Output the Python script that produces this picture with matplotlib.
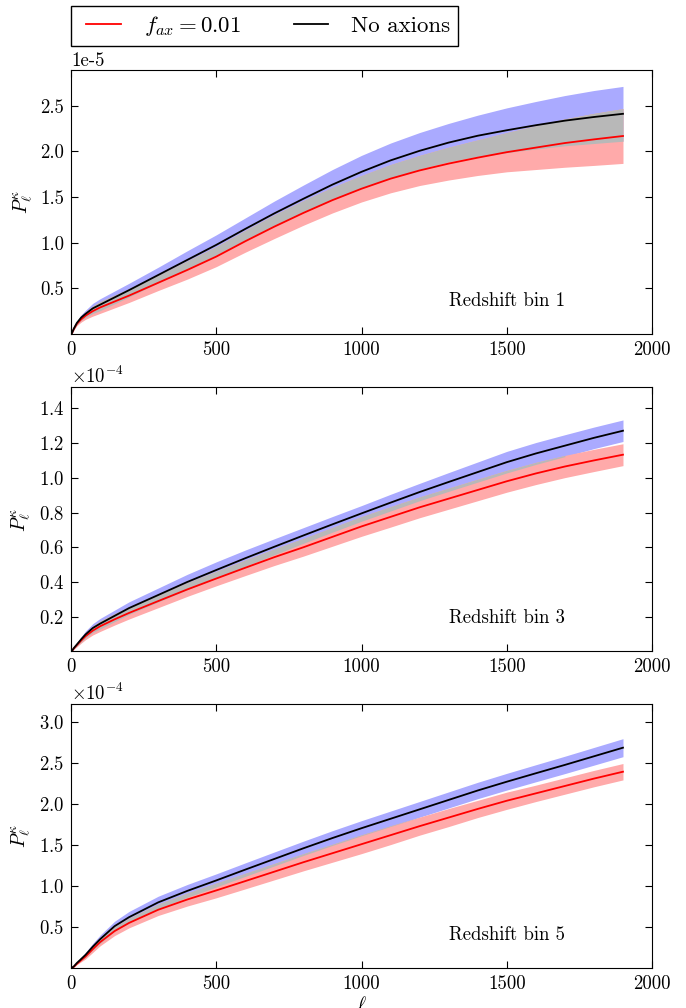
import numpy as np
import matplotlib
matplotlib.use('Agg')
import matplotlib.pyplot as plt
from matplotlib.legend_handler import HandlerLine2D

# Computer Modern look
plt.rcParams['font.family'] = 'serif'
plt.rcParams['font.serif'] = ['cmr10', 'DejaVu Serif']
plt.rcParams['mathtext.fontset'] = 'cm'
plt.rcParams['axes.unicode_minus'] = False
plt.rcParams['axes.formatter.use_mathtext'] = False

# Multipoles
ell = [2, 10, 20, 35, 50, 75, 100, 150, 200, 300, 400, 500, 600, 700, 800, 900,
       1000, 1100, 1200, 1300, 1400, 1500, 1600, 1700, 1800, 1900]

# Redshift bin 1 (units of 1e-5)
noax_1 = [0.0, 0.06, 0.12, 0.18, 0.22, 0.28, 0.32, 0.40, 0.48, 0.645, 0.81, 0.975, 1.15,
          1.32, 1.48, 1.635, 1.775, 1.90, 2.005, 2.095, 2.17, 2.23, 2.285, 2.335, 2.375, 2.41]
noax_err_1 = [0.0, 0.01, 0.02, 0.03, 0.04, 0.055, 0.065, 0.07, 0.075, 0.085, 0.10, 0.11, 0.12,
              0.135, 0.15, 0.165, 0.18, 0.19, 0.20, 0.21, 0.225, 0.245, 0.26, 0.275, 0.29, 0.30]
fax_1 = [0.0, 0.055, 0.11, 0.16, 0.20, 0.25, 0.29, 0.355, 0.42, 0.56, 0.70, 0.847, 1.015,
         1.175, 1.325, 1.465, 1.59, 1.70, 1.79, 1.865, 1.93, 1.99, 2.04, 2.09, 2.13, 2.167]
fax_err_1 = [0.0, 0.01, 0.02, 0.03, 0.04, 0.055, 0.065, 0.07, 0.075, 0.085, 0.10, 0.11, 0.12,
             0.13, 0.135, 0.14, 0.145, 0.155, 0.165, 0.18, 0.195, 0.215, 0.24, 0.265, 0.285, 0.30]

# Redshift bin 3 (units of 1e-4)
noax_3 = [0.0, 0.02, 0.04, 0.07, 0.098, 0.135, 0.16, 0.205, 0.25, 0.325, 0.40, 0.469, 0.537,
          0.603, 0.668, 0.732, 0.795, 0.857, 0.918, 0.976, 1.033, 1.09, 1.14, 1.185, 1.23, 1.271]
noax_err_3 = [0.0, 0.005, 0.01, 0.015, 0.02, 0.025, 0.03, 0.033, 0.036, 0.04, 0.044, 0.047, 0.047,
              0.046, 0.045, 0.045, 0.045, 0.048, 0.05, 0.054, 0.058, 0.062, 0.063, 0.063, 0.062, 0.062]
fax_3 = [0.0, 0.018, 0.036, 0.063, 0.088, 0.12, 0.145, 0.185, 0.222, 0.29, 0.357, 0.42, 0.482,
         0.543, 0.60, 0.66, 0.72, 0.775, 0.83, 0.88, 0.93, 0.98, 1.025, 1.065, 1.10, 1.133]
fax_err_3 = [0.0, 0.005, 0.01, 0.015, 0.02, 0.025, 0.03, 0.033, 0.035, 0.038, 0.04, 0.042, 0.045,
             0.048, 0.051, 0.054, 0.057, 0.059, 0.06, 0.061, 0.062, 0.063, 0.064, 0.064, 0.064, 0.063]

# Redshift bin 5 (units of 1e-4)
noax_5 = [0.0, 0.02, 0.06, 0.11, 0.16, 0.26, 0.35, 0.51, 0.62, 0.80, 0.94, 1.068, 1.20,
          1.33, 1.46, 1.585, 1.705, 1.82, 1.935, 2.05, 2.165, 2.272, 2.375, 2.477, 2.582, 2.687]
noax_err_5 = [0.0, 0.005, 0.01, 0.02, 0.03, 0.04, 0.05, 0.06, 0.07, 0.075, 0.078, 0.08, 0.082,
              0.085, 0.087, 0.09, 0.092, 0.094, 0.096, 0.098, 0.10, 0.102, 0.104, 0.106, 0.108, 0.11]
fax_5 = [0.0, 0.015, 0.05, 0.095, 0.14, 0.23, 0.315, 0.45, 0.55, 0.71, 0.835, 0.946, 1.06,
         1.175, 1.29, 1.40, 1.51, 1.62, 1.73, 1.835, 1.94, 2.04, 2.13, 2.22, 2.31, 2.394]
fax_err_5 = [0.0, 0.005, 0.01, 0.02, 0.03, 0.04, 0.045, 0.055, 0.06, 0.07, 0.08, 0.09, 0.095,
             0.10, 0.105, 0.11, 0.115, 0.115, 0.11, 0.11, 0.105, 0.105, 0.10, 0.10, 0.10, 0.10]

panels = [
    ('Redshift bin 1', 1e-5, noax_1, noax_err_1, fax_1, fax_err_1, 2.89, [0.5, 1.0, 1.5, 2.0, 2.5]),
    ('Redshift bin 3', 1e-4, noax_3, noax_err_3, fax_3, fax_err_3, 1.52, [0.2, 0.4, 0.6, 0.8, 1.0, 1.2, 1.4]),
    ('Redshift bin 5', 1e-4, noax_5, noax_err_5, fax_5, fax_err_5, 3.22, [0.5, 1.0, 1.5, 2.0, 2.5, 3.0]),
]

fig = plt.figure(figsize=(6.86, 10.08), dpi=100)
bottoms = [0.6687, 0.3537, 0.0397]

x = np.array(ell)
for i, (name, scale, n, ne, a, ae, ytop, yt) in enumerate(panels):
    ax = fig.add_axes([0.1035, bottoms[i], 0.847, 0.2619])
    n = np.array(n) * scale
    ne = np.array(ne) * scale
    a = np.array(a) * scale
    ae = np.array(ae) * scale

    # error bands, overlap drawn in grey
    ax.fill_between(x, n - ne, n + ne, color='#aaaaff', lw=0)
    ax.fill_between(x, a - ae, a + ae, color='#ffaaaa', lw=0)
    lo = np.maximum(n - ne, a - ae)
    hi = np.minimum(n + ne, a + ae)
    ax.fill_between(x, lo, hi, where=hi > lo, color='#b8b8b8', lw=0)

    l1, = ax.plot(x, a, color='red', lw=1.3)
    l2, = ax.plot(x, n, color='black', lw=1.3)

    ax.set_xlim(0, 2000)
    ax.set_ylim(0, ytop * scale)
    ax.set_xticks([0, 500, 1000, 1500, 2000])
    ax.set_yticks(np.array(yt) * scale)
    ax.ticklabel_format(axis='y', style='sci', scilimits=(0, 0), useMathText=(i > 0))
    ax.yaxis.get_offset_text().set_fontsize(13.5)
    ax.tick_params(direction='in', top=True, right=True, length=5, width=0.8,
                   labelsize=13.5, pad=5)
    ax.set_ylabel(r'$P_\ell^\kappa$', fontsize=14, labelpad=4)
    ax.text(0.65, 0.125, name, transform=ax.transAxes, fontsize=13.5, va='center')

    if i == 0:
        leg = ax.legend([l1, l2], [r'$f_{ax} = 0.01$', 'No axions'], loc='lower left',
                        bbox_to_anchor=(0, 1.091), ncol=2, borderaxespad=0,
                        fontsize=16.5, fancybox=False, edgecolor='black',
                        handlelength=1.82, handletextpad=1.0, columnspacing=2.0,
                        borderpad=0.35, framealpha=1,
                        handler_map={matplotlib.lines.Line2D: HandlerLine2D(xpad=0.32)})
        leg.get_frame().set_linewidth(1.0)
    if i == 2:
        ax.set_xlabel(r'$\ell$', fontsize=14, labelpad=2)

fig.savefig('out.png', dpi=100)
